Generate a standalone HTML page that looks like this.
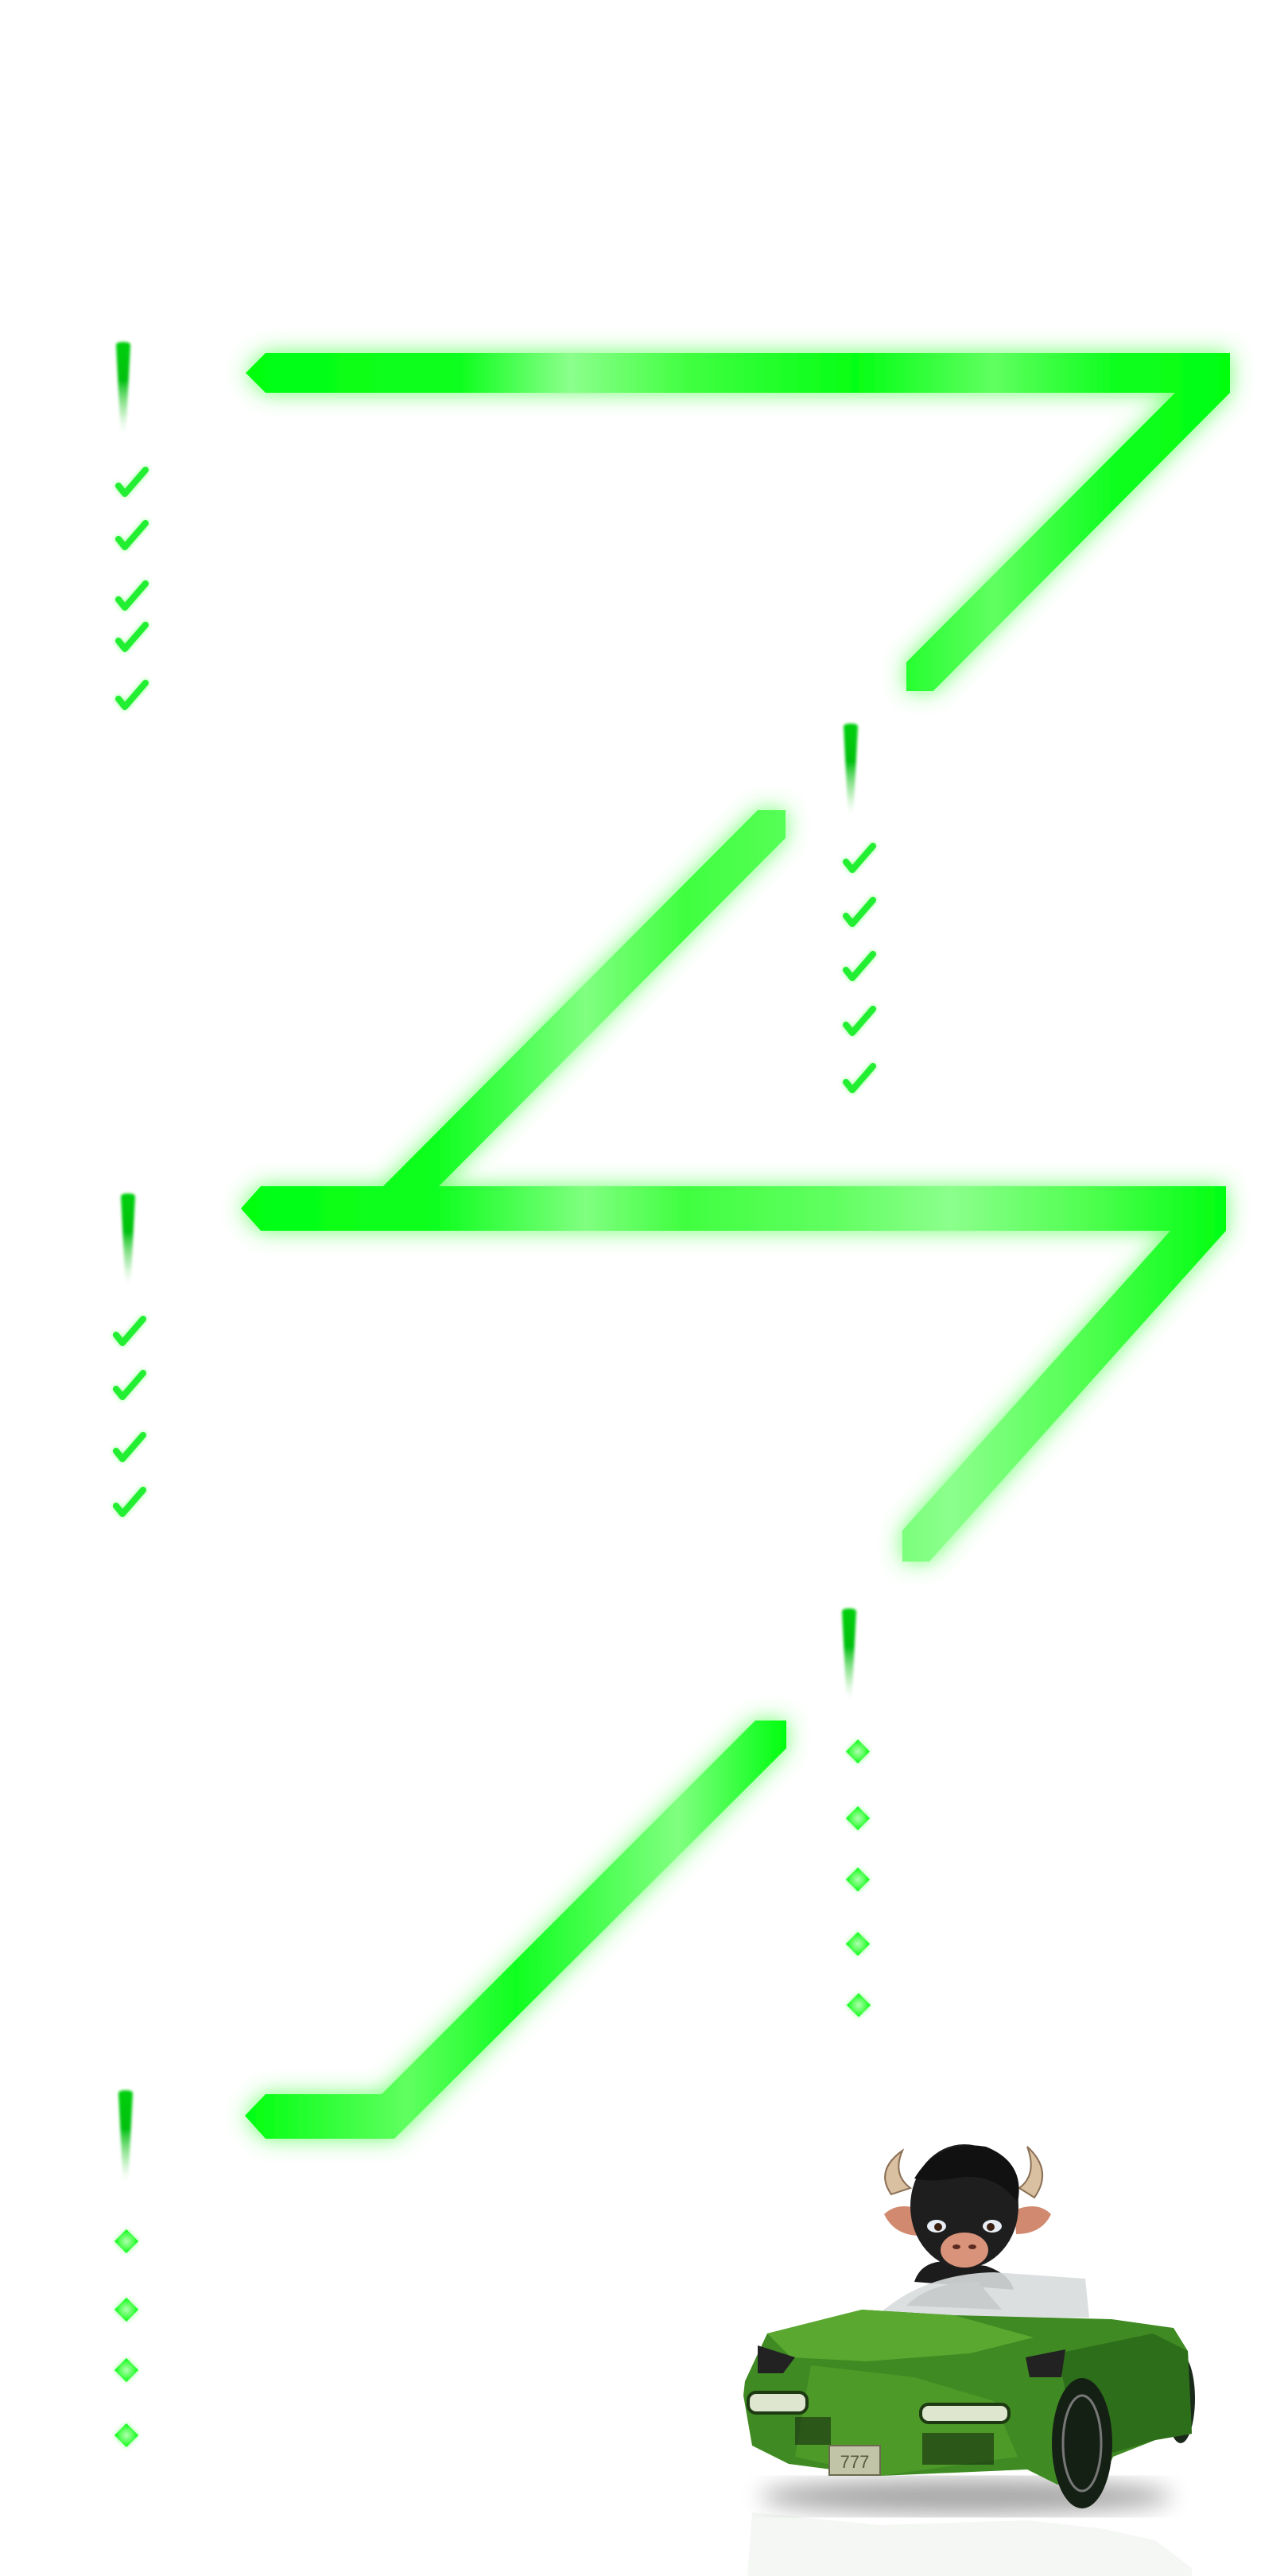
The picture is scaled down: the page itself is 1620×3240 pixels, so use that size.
<!DOCTYPE html>
<html><head><meta charset="utf-8"><style>
html,body{margin:0;padding:0;background:#fff;}
svg{display:block;}
</style></head><body>
<svg width="1620" height="3240" viewBox="0 0 1620 3240" xmlns="http://www.w3.org/2000/svg">
<defs>
<filter id="glow" x="-20%" y="-20%" width="140%" height="140%">
<feGaussianBlur in="SourceAlpha" stdDeviation="14" result="b"/>
<feFlood flood-color="#40ff40" flood-opacity="0.75"/>
<feComposite in2="b" operator="in" result="g"/>
<feMerge><feMergeNode in="g"/><feMergeNode in="SourceGraphic"/></feMerge>
</filter>
<filter id="sglow" x="-50%" y="-50%" width="200%" height="200%">
<feGaussianBlur in="SourceAlpha" stdDeviation="3" result="b"/>
<feFlood flood-color="#40ff40" flood-opacity="0.6"/>
<feComposite in2="b" operator="in" result="g"/>
<feMerge><feMergeNode in="g"/><feMergeNode in="SourceGraphic"/></feMerge>
</filter>
<filter id="soft"><feGaussianBlur stdDeviation="1.5"/></filter>
<filter id="shadow"><feGaussianBlur stdDeviation="14"/></filter>
<linearGradient id="g1" gradientUnits="userSpaceOnUse" x1="309" y1="0" x2="1547" y2="0">
<stop offset="0" stop-color="#00ff10"/><stop offset="0.22" stop-color="#10ff20"/><stop offset="0.33" stop-color="#8cff8c"/><stop offset="0.45" stop-color="#40ff40"/><stop offset="0.62" stop-color="#05ff15"/><stop offset="0.76" stop-color="#60ff60"/><stop offset="0.88" stop-color="#10ff20"/><stop offset="1" stop-color="#00ff10"/>
</linearGradient>
<linearGradient id="g2" gradientUnits="userSpaceOnUse" x1="303" y1="0" x2="1542" y2="0">
<stop offset="0" stop-color="#00ff10"/><stop offset="0.2" stop-color="#10ff20"/><stop offset="0.35" stop-color="#80ff80"/><stop offset="0.45" stop-color="#40ff40"/><stop offset="0.6" stop-color="#60ff60"/><stop offset="0.72" stop-color="#8cff8c"/><stop offset="0.86" stop-color="#50ff50"/><stop offset="1" stop-color="#00ff10"/>
</linearGradient>
<linearGradient id="g3" gradientUnits="userSpaceOnUse" x1="308" y1="0" x2="989" y2="0">
<stop offset="0" stop-color="#00ff10"/><stop offset="0.3" stop-color="#60ff60"/><stop offset="0.5" stop-color="#10ff20"/><stop offset="0.8" stop-color="#80ff80"/><stop offset="1" stop-color="#00ff10"/>
</linearGradient>
<linearGradient id="ex" x1="0" y1="0" x2="0" y2="1">
<stop offset="0" stop-color="#00d010"/><stop offset="0.4" stop-color="#00c010"/><stop offset="0.75" stop-color="#80e080" stop-opacity="0.5"/><stop offset="1" stop-color="#ffffff" stop-opacity="0"/>
</linearGradient>
<radialGradient id="dm"><stop offset="0" stop-color="#b0ffb0"/><stop offset="0.5" stop-color="#60ff60"/><stop offset="1" stop-color="#00ff10"/></radialGradient>
<g id="chk"><path d="M6 26 L14 36 L40 6" fill="none" stroke="#22ee30" stroke-width="8" stroke-linecap="round" stroke-linejoin="round"/></g>
<g id="exc"><path d="M-9 2 Q-9 -2 0 -2 Q9 -2 9 2 L6 60 L3 118 L-3 118 L-6 60 Z" fill="url(#ex)"/></g>
<g id="dia"><path d="M0 -15 L15 0 L0 15 L-15 0 Z" fill="url(#dm)"/></g>
</defs>

<polygon filter="url(#glow)" fill="url(#g1)" points="309,469 334,444 1547,444 1547,494 1174,869 1140,869 1140,833 1478,494 334,494"/>
<polygon filter="url(#glow)" fill="url(#g2)" points="953,1019 988,1019 988,1054 552,1492 1542,1492 1542,1548 1169,1964 1135,1964 1135,1925 1472,1548 328,1548 303,1520 328,1492 482,1492"/>
<polygon filter="url(#glow)" fill="url(#g3)" points="950,2164 989,2164 989,2199 496,2690 334,2690 308,2661 334,2634 480,2634"/>

<g filter="url(#soft)">
<use href="#exc" x="155" y="432"/>
<use href="#exc" x="1070" y="912"/>
<use href="#exc" x="161" y="1503"/>
<use href="#exc" x="1068" y="2025"/>
<use href="#exc" x="158" y="2631"/>
</g>

<g filter="url(#sglow)">
<use href="#chk" x="143" y="585"/><use href="#chk" x="143" y="652"/><use href="#chk" x="143" y="728"/><use href="#chk" x="143" y="780"/><use href="#chk" x="143" y="853"/>
<use href="#chk" x="1058" y="1058"/><use href="#chk" x="1058" y="1126"/><use href="#chk" x="1058" y="1194"/><use href="#chk" x="1058" y="1263"/><use href="#chk" x="1058" y="1335"/>
<use href="#chk" x="140" y="1653"/><use href="#chk" x="140" y="1721"/><use href="#chk" x="140" y="1799"/><use href="#chk" x="140" y="1868"/>
</g>

<g filter="url(#sglow)">
<use href="#dia" x="1079" y="2203"/><use href="#dia" x="1079" y="2287"/><use href="#dia" x="1079" y="2364"/><use href="#dia" x="1079" y="2445"/><use href="#dia" x="1080" y="2522"/>
<use href="#dia" x="159" y="2819"/><use href="#dia" x="159" y="2905"/><use href="#dia" x="159" y="2981"/><use href="#dia" x="159" y="3063"/>
</g>

<ellipse cx="1215" cy="3140" rx="260" ry="22" fill="#000" opacity="0.35" filter="url(#shadow)"/>
<g opacity="0.05">
<polygon points="946,3160 1107,3176 1292,3170 1384,3180 1453,3195 1499,3230 1499,3240 940,3240" fill="#2e6b1a"/>
</g>
<path d="M1150 2870 Q1160 2840 1200 2845 L1240 2850 Q1270 2860 1275 2880 Z" fill="#1c1c1c"/>
<path d="M1121 2760 Q1100 2730 1135 2705 Q1122 2735 1145 2752 Z" fill="#d9c0a0" stroke="#8a6f55" stroke-width="2"/>
<path d="M1301 2764 Q1325 2730 1292 2700 Q1305 2735 1282 2752 Z" fill="#d9c0a0" stroke="#8a6f55" stroke-width="2"/>
<path d="M1112 2785 Q1130 2768 1160 2780 L1158 2812 Q1125 2812 1112 2785 Z" fill="#d18a70"/>
<path d="M1322 2785 Q1305 2768 1276 2780 L1278 2810 Q1310 2810 1322 2785 Z" fill="#d18a70"/>
<ellipse cx="1213" cy="2775" rx="68" ry="78" fill="#1e1e1e"/>
<path d="M1150 2740 Q1180 2690 1240 2700 Q1290 2720 1280 2770 Q1250 2730 1200 2740 Q1170 2745 1150 2740 Z" fill="#111"/>
<ellipse cx="1178" cy="2800" rx="12" ry="8" fill="#e8eef5"/><circle cx="1180" cy="2801" r="5" fill="#3a2010"/>
<ellipse cx="1248" cy="2800" rx="12" ry="8" fill="#e8eef5"/><circle cx="1246" cy="2801" r="5" fill="#3a2010"/>
<ellipse cx="1213" cy="2830" rx="30" ry="22" fill="#d9937a"/>
<ellipse cx="1203" cy="2826" rx="5" ry="3" fill="#5a2a20"/><ellipse cx="1223" cy="2826" rx="5" ry="3" fill="#5a2a20"/>
<path d="M1103 2913 Q1160 2860 1250 2858 L1365 2866 L1370 2915 Z" fill="#d8dcdc" opacity="0.9"/>
<path d="M1140 2900 Q1170 2870 1230 2870 L1260 2905 Z" fill="#c9cccc"/>
<ellipse cx="1485" cy="3017" rx="18" ry="56" fill="#1a2a1a"/>
<polygon points="937,2995 965,2935 1084,2905 1200,2912 1398,2917 1476,2928 1494,2957 1499,3061 1453,3069 1400,3090 1384,3125 1330,3125 1292,3106 1107,3114 992,3099 946,3076 935,3013" fill="#3f8a22"/>
<polygon points="965,2935 1084,2905 1200,2912 1300,2940 1220,2960 1090,2970 995,2965" fill="#5aa830"/>
<polygon points="1330,2960 1450,2935 1494,2957 1499,3061 1453,3069 1400,3085 1345,3030" fill="#2d6e1a"/>
<polygon points="1020,2975 1150,2990 1250,3020 1280,3090 1107,3114 1000,3090" fill="#4e9a28"/>
<ellipse cx="1361" cy="3073" rx="38" ry="82" fill="#152015"/>
<ellipse cx="1361" cy="3073" rx="24" ry="60" fill="none" stroke="#777" stroke-width="3"/>
<rect x="941" y="3009" width="74" height="26" rx="10" fill="#dfe6d0" stroke="#1d3a12" stroke-width="4"/>
<rect x="1158" y="3024" width="111" height="23" rx="10" fill="#dfe6d0" stroke="#1d3a12" stroke-width="4"/>
<polygon points="953,2950 1000,2965 985,2985 953,2985" fill="#222"/>
<polygon points="1290,2965 1340,2955 1335,2990 1295,2990" fill="#222"/>
<rect x="1000" y="3040" width="45" height="35" fill="#1d3a12" opacity="0.7"/>
<rect x="1160" y="3060" width="90" height="40" fill="#1d3a12" opacity="0.7"/>
<rect x="1043" y="3076" width="64" height="37" fill="#c2c4a8" stroke="#6a6a50" stroke-width="2"/>
<text x="1075" y="3104" font-family="Liberation Sans, sans-serif" font-size="22" fill="#5a5a40" text-anchor="middle">777</text>
</svg>
</body></html>
